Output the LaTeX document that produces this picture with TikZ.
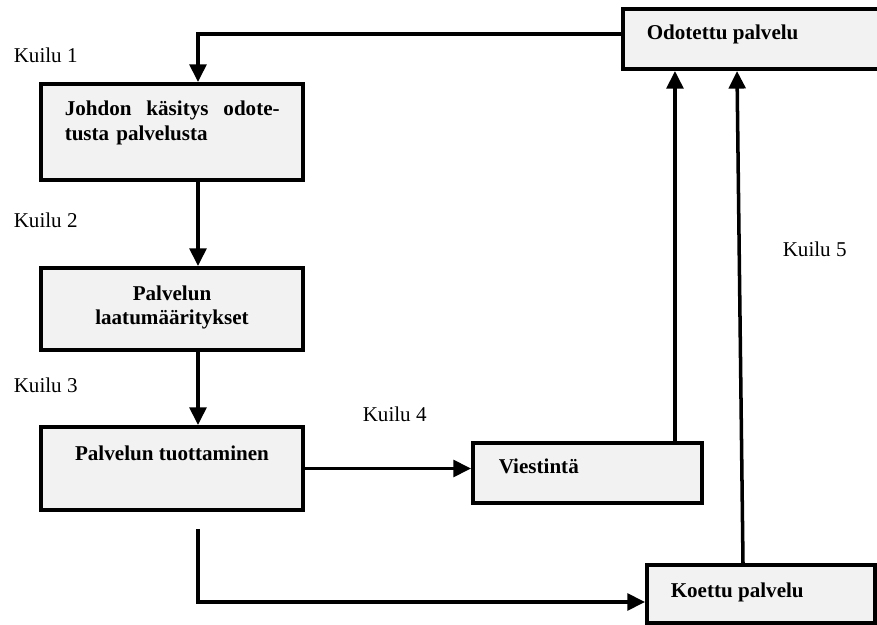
\documentclass[tikz,border=0pt]{standalone}
\usepackage{fontspec}
\setmainfont{Liberation Serif}
\usepackage{xcolor}
\usepackage{tikz}
\usetikzlibrary{arrows.meta, positioning}

\definecolor{boxgray}{HTML}{F2F2F2}
\tikzset{
	box/.style={draw=black, fill=boxgray, line width=2.3pt, inner sep=0pt},
	boxtext/.style={font=\fontsize{12}{14.2}\selectfont\bfseries, inner sep=0pt},
	gaptext/.style={font=\fontsize{12}{14.2}\selectfont, inner sep=0pt, anchor=base west}
}

\begin{document}
\begin{tikzpicture}[->,
			>={Triangle[length=10pt,width=9.5pt]},
			x=0.02cm, y=-0.02cm,
			line width=2pt]
			
			\useasboundingbox (0,0) rectangle (877,625);
			
			% boxes
			\node[box, minimum width=5.64cm, minimum height=1.2cm] (odot) at (764,39) {};
			\node[box, minimum width=5.24cm, minimum height=1.92cm] (johdon) at (172,132) {};
			\node[box, minimum width=5.24cm, minimum height=1.64cm] (laatu) at (172,309) {};
			\node[box, minimum width=5.24cm, minimum height=1.66cm] (tuott) at (172,468.5) {};
			\node[box, minimum width=4.58cm, minimum height=1.2cm] (viest) at (587.5,473) {};
			\node[box, minimum width=4.56cm, minimum height=1.16cm] (koettu) at (761,594) {};
			
			% box texts
			\node[boxtext, anchor=base west] (odottxt) at (645,40) {Odotettu palvelu};
			\node[boxtext, anchor=base west, text width=4.3cm, align=left] (johdontxt) at (63,116) {Johdon\hfill käsitys\hfill odote-\\tusta palvelusta};
			\node[boxtext, anchor=base, align=center] (laatutxt) at (172,325) {Palvelun\\laatumääritykset};
			\node[boxtext, anchor=base] (tuotttxt) at (172,460) {Palvelun tuottaminen};
			\node[boxtext, anchor=base west] (viesttxt) at (497,474) {Viestintä};
			\node[boxtext, anchor=base west] (koettutxt) at (669,597) {Koettu palvelu};
			
			% gaps
			\node[gaptext] (kuilu1) at (12,63) {Kuilu 1};
			\node[gaptext] (kuilu2) at (12,228) {Kuilu 2};
			\node[gaptext] (kuilu3) at (12,393) {Kuilu 3};
			\node[gaptext] (kuilu4) at (361,421) {Kuilu 4};
			\node[gaptext] (kuilu5) at (781,257) {Kuilu 5};
			
			\coordinate (vtop) at ([xshift=1.75cm]viest.north);
			\coordinate (vend) at (vtop |- odot.south);
			\coordinate (ktop) at ([xshift=-0.36cm]koettu.north);
			\coordinate (kend) at ([xshift=-0.54cm]odot.south);
			\coordinate (tfoot) at ([xshift=0.52cm,yshift=-0.34cm]tuott.south);
			
			\draw ([yshift=0.1cm]odot.west) -| ([xshift=0.52cm]johdon.north);
			\draw ([xshift=0.52cm]johdon.south) -- ([xshift=0.52cm]laatu.north);
			\draw ([xshift=0.52cm]laatu.south) -- ([xshift=0.52cm]tuott.north);
			\draw (tuott.east) -- (tuott.east -| viest.west);
			\draw (vtop) -- (vend);
			\draw (ktop) -- (kend);
			\draw (tfoot) |- ([yshift=-0.16cm]koettu.west);
		\end{tikzpicture}
\end{document}
